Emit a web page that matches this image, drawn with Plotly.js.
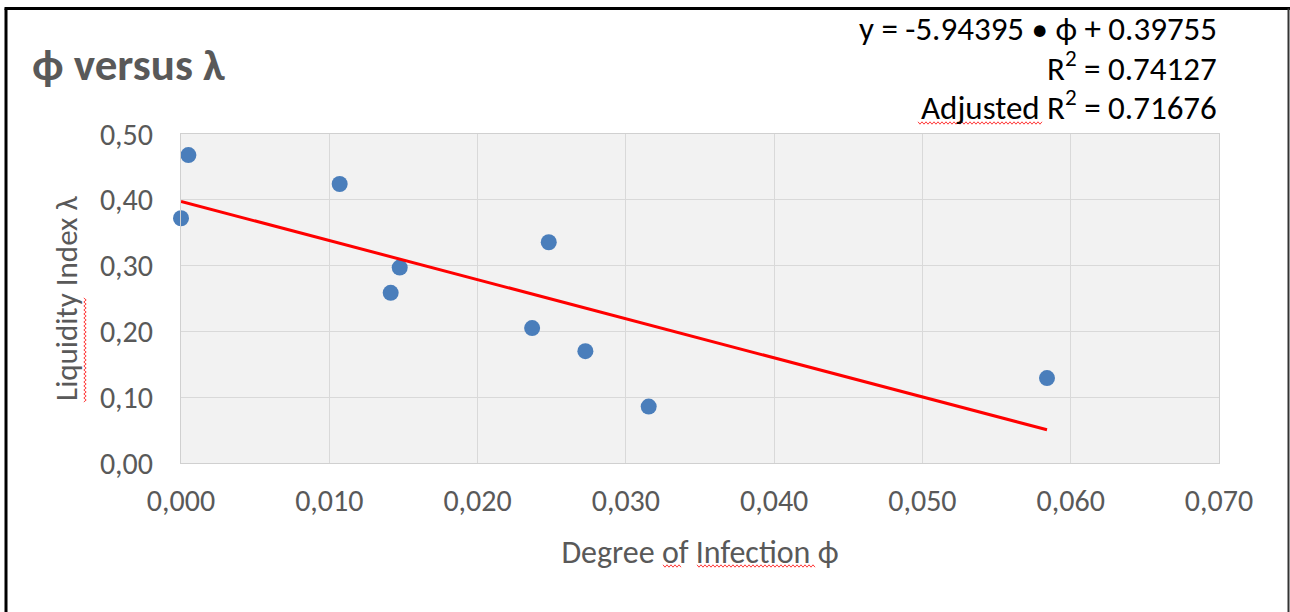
<!DOCTYPE html>
<html>
<head>
<meta charset="utf-8">
<script src="https://cdn.plot.ly/plotly-3.0.1.min.js"></script>
<style>
html,body{margin:0;padding:0;background:#fff;}
#chart{width:1290px;height:612px;}
</style>
</head>
<body>
<div id="chart"></div>
<script>
// Data
const phiValues = [0.0005, 0.0000, 0.0107, 0.01475, 0.01414, 0.0248, 0.02368, 0.02727, 0.03154, 0.0584];
const lambdaValues = [0.468, 0.372, 0.424, 0.297, 0.2586, 0.3355, 0.205, 0.170, 0.0858, 0.129];
const trendSlope = -5.94395;
const trendIntercept = 0.39755;
const rSquared = 0.74127;
const adjRSquared = 0.71676;
const trendXRange = [0.0, 0.0584];
const xTickVals = [0, 0.01, 0.02, 0.03, 0.04, 0.05, 0.06, 0.07];
const yTickVals = [0, 0.1, 0.2, 0.3, 0.4, 0.5];

const trendY = trendXRange.map(x => trendSlope * x + trendIntercept);

const FONT = "Calibri, Carlito, 'Open Sans', sans-serif";
const GREY = '#595959';

const traces = [
  {
    x: phiValues, y: lambdaValues, type: 'scatter', mode: 'markers',
    marker: {color: '#4a7ebb', size: 16},
    hoverinfo: 'x+y', showlegend: false, cliponaxis: false
  },
  {
    x: trendXRange, y: trendY, type: 'scatter', mode: 'lines',
    line: {color: '#ff0000', width: 3},
    hoverinfo: 'skip', showlegend: false
  }
];

const L = 181, R = 1219, T = 134, B = 463;
const pw = R - L, ph = B - T;
const px2x = p => (p - L) / pw;
const py2y = p => (B - p) / ph;

// spell-check style wavy underline (decoration), horizontal or vertical, in pixels
function squiggle(a0, a1, c, vertical) {
  let d = '';
  for (let a = a0, i = 0; a <= a1; a += 2, i++) {
    const off = (i % 2 === 0) ? -1.2 : 1.2;
    const X = vertical ? px2x(c + off) : px2x(a);
    const Y = vertical ? py2y(a) : py2y(c + off);
    d += (i === 0 ? 'M' : 'L') + X.toFixed(5) + ',' + Y.toFixed(5) + ' ';
  }
  return {type: 'path', xref: 'paper', yref: 'paper', path: d,
          line: {color: '#ff3b3b', width: 1}};
}

const layout = {
  width: 1290, height: 612,
  margin: {l: L, r: 1290 - R, t: T, b: 612 - B, pad: 0},
  paper_bgcolor: '#ffffff',
  plot_bgcolor: '#f2f2f2',
  separators: ',.',
  font: {family: FONT, color: GREY},
  title: {
    text: '<b>ϕ versus λ</b>',
    font: {family: FONT, size: 45, color: GREY},
    xref: 'container', yref: 'container',
    x: 32 / 1290, xanchor: 'left',
    y: 1 - 64 / 612, yanchor: 'middle'
  },
  xaxis: {
    range: [0, 0.07], tickvals: xTickVals, tickformat: '.3f',
    showgrid: true, gridcolor: '#d9d9d9', gridwidth: 1,
    zeroline: false, showline: true, mirror: true, linecolor: '#d0d0d0', linewidth: 1,
    ticks: '', ticklabelstandoff: 11,
    tickfont: {family: FONT, size: 30, color: GREY},
    title: {text: 'Degree of Infection ϕ', font: {family: FONT, size: 32, color: GREY}, standoff: 22},
    fixedrange: true
  },
  yaxis: {
    range: [0, 0.5], tickvals: yTickVals, tickformat: '.2f',
    showgrid: true, gridcolor: '#d9d9d9', gridwidth: 1,
    zeroline: false, showline: true, mirror: true, linecolor: '#d0d0d0', linewidth: 1,
    ticks: '', ticklabelstandoff: 21,
    tickfont: {family: FONT, size: 30, color: GREY},
    title: {text: 'Liquidity Index λ', font: {family: FONT, size: 31, color: GREY}, standoff: 13},
    fixedrange: true
  },
  annotations: [
    {text: 'y = ' + trendSlope.toFixed(5) + ' • ϕ + ' + trendIntercept.toFixed(5),
     xref: 'paper', yref: 'paper', x: 1, y: py2y(29), xanchor: 'right', yanchor: 'middle',
     showarrow: false, font: {family: FONT, size: 33, color: '#000000'}},
    {text: 'R<sup>2</sup> = ' + rSquared.toFixed(5),
     xref: 'paper', yref: 'paper', x: 1, y: py2y(67), xanchor: 'right', yanchor: 'middle',
     showarrow: false, font: {family: FONT, size: 33, color: '#000000'}},
    {text: 'Adjusted R<sup>2</sup> = ' + adjRSquared.toFixed(5),
     xref: 'paper', yref: 'paper', x: 1, y: py2y(105), xanchor: 'right', yanchor: 'middle',
     showarrow: false, font: {family: FONT, size: 33, color: '#000000'}}
  ],
  shapes: [
    {type: 'line', xref: 'paper', yref: 'paper', x0: px2x(6), x1: px2x(6), y0: py2y(620), y1: py2y(8.5),
     line: {color: '#000000', width: 3}},
    {type: 'line', xref: 'paper', yref: 'paper', x0: px2x(4.5), x1: px2x(1290), y0: py2y(8.5), y1: py2y(8.5),
     line: {color: '#000000', width: 3}},
    {type: 'line', xref: 'paper', yref: 'paper', x0: px2x(1288.5), x1: px2x(1288.5), y0: py2y(620), y1: py2y(8.5),
     line: {color: '#333333', width: 2}},
    squiggle(918, 1042, 123, false),
    squiggle(663, 682, 566, false),
    squiggle(697, 815, 566, false),
    squiggle(298, 402, 85, true)
  ],
  showlegend: false,
  hovermode: 'closest'
};

Plotly.newPlot('chart', traces, layout, {displayModeBar: false, responsive: false});
</script>
</body>
</html>
